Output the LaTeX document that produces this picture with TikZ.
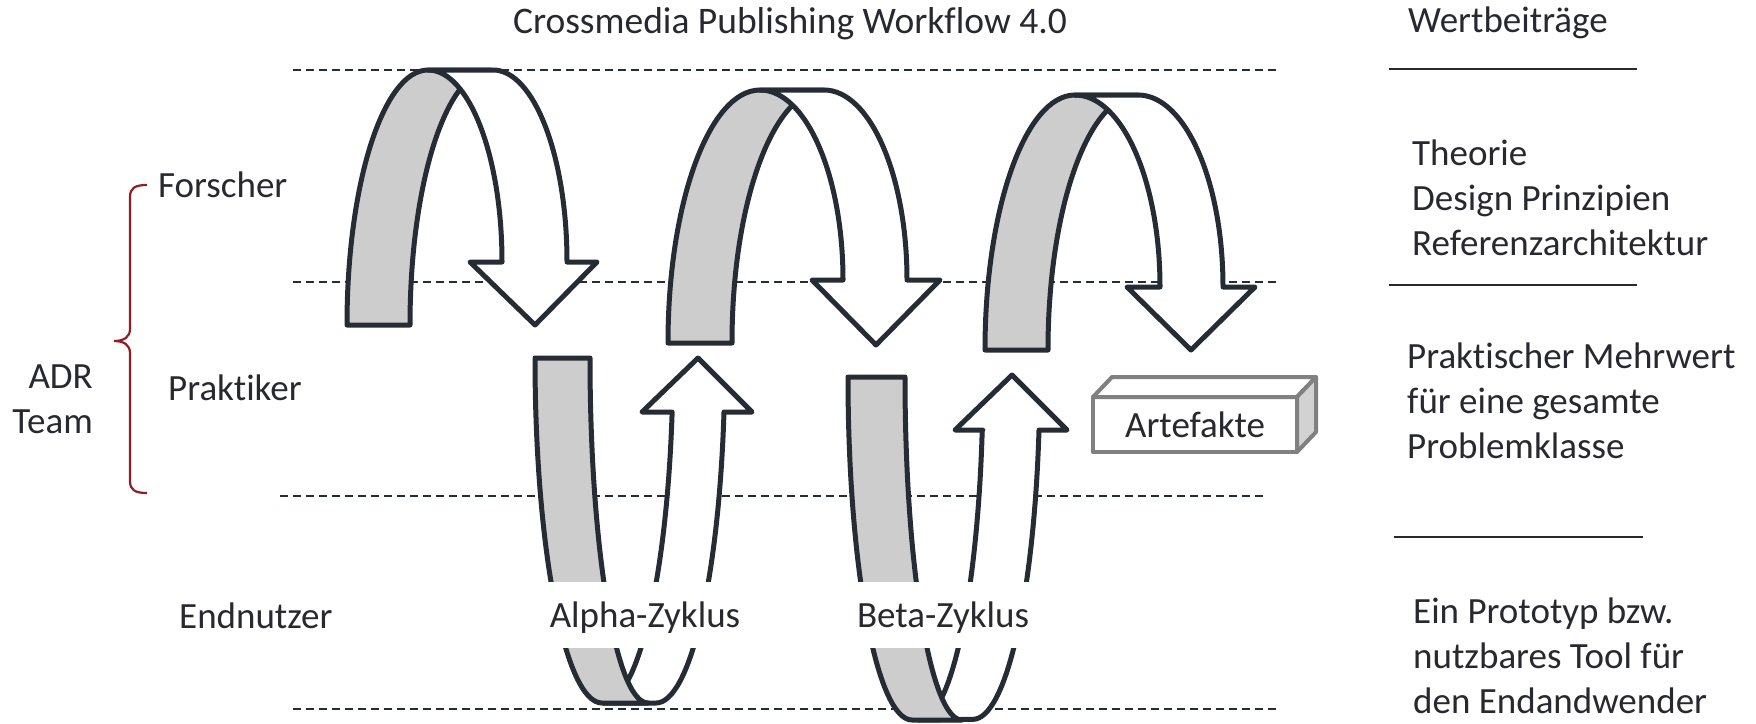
\documentclass[tikz,border=0pt]{standalone}
\usepackage{fontspec}
\setmainfont{Carlito}[Ligatures=NoCommon]
\definecolor{outline}{RGB}{38,44,52}
\definecolor{ribbongray}{RGB}{205,205,205}
\definecolor{textdark}{RGB}{40,40,48}
\definecolor{bracered}{RGB}{150,28,36}
\definecolor{boxgray}{RGB}{128,128,128}
\definecolor{sidegray}{RGB}{210,210,210}

\begin{document}
\begin{tikzpicture}[x=1pt, y=1pt,
  band/.style={draw=outline, line width=5pt, line join=round},
  backside/.style={band, fill=ribbongray},
  frontside/.style={band, fill=white},
  layerline/.style={draw=outline, line width=1.8pt, dash pattern=on 8pt off 5pt},
  rule/.style={draw=textdark, line width=2pt},
  txt/.style={font=\fontsize{37}{45}\selectfont, text=textdark, inner sep=0pt},
  cyclelabel/.style={txt, fill=white, text height=45pt, text depth=21pt, inner xsep=4pt},
  boxface/.style={draw=boxgray, line width=4pt, line join=round},
  artbox/.style={txt, boxface, fill=white, minimum width=204pt, minimum height=55pt, outer sep=0pt}]
  \useasboundingbox (0,0) rectangle (1756,-723);

  % Ebenen
  \draw[layerline] (293,-70) -- (1277,-70);
  \draw[layerline] (293,-282) -- (1277,-282);
  \draw[layerline] (280,-496) -- (1263,-496);
  \draw[layerline] (293,-709) -- (1277,-709);

  % obere Boegen
  \filldraw[backside] (347,-325) arc[start angle=180, end angle=90, x radius=81, y radius=255] -- (491,-70) arc[start angle=90, end angle=180, x radius=81, y radius=255] -- cycle;
  \filldraw[frontside] (428,-70) -- (493,-70) arc[start angle=90, end angle=0, x radius=74, y radius=192] -- (597,-262) -- (535,-325) -- (470,-262) -- (502,-262) arc[start angle=0, end angle=90, x radius=74, y radius=192] -- cycle;
  \filldraw[backside] (668,-343) arc[start angle=180, end angle=90, x radius=92, y radius=253] -- (824,-90) arc[start angle=90, end angle=180, x radius=92, y radius=253] -- cycle;
  \filldraw[frontside] (760,-90) -- (824,-90) arc[start angle=90, end angle=0, x radius=83, y radius=190] -- (940,-280) -- (876,-345) -- (812,-280) -- (843,-280) arc[start angle=0, end angle=90, x radius=83, y radius=190] -- cycle;
  \filldraw[backside] (985,-350) arc[start angle=180, end angle=90, x radius=90, y radius=255] -- (1138,-95) arc[start angle=90, end angle=180, x radius=90, y radius=255] -- cycle;
  \filldraw[frontside] (1075,-95) -- (1138,-95) arc[start angle=90, end angle=0, x radius=85, y radius=192] -- (1255,-287) -- (1191,-350) -- (1127,-287) -- (1160,-287) arc[start angle=0, end angle=90, x radius=85, y radius=192] -- cycle;

  % untere Schleifen
  \filldraw[frontside] (672,-412) -- (642,-412) -- (698,-358) -- (752,-412) -- (724,-412) arc[start angle=-9, end angle=-90, x radius=69, y radius=345] -- (603,-703) arc[start angle=-90, end angle=-9, x radius=70, y radius=345] -- cycle;
  \filldraw[backside] (535,-358) arc[start angle=180, end angle=270, x radius=67, y radius=345] -- (648,-703) arc[start angle=270, end angle=180, x radius=58, y radius=345] -- cycle;
  \filldraw[frontside] (983,-430) -- (955,-430) -- (1012,-375) -- (1067,-430) -- (1039,-430) arc[start angle=-9, end angle=-90, x radius=67, y radius=343] -- (919,-720) arc[start angle=-90, end angle=-9, x radius=64, y radius=343] -- cycle;
  \filldraw[backside] (848,-377) arc[start angle=180, end angle=270, x radius=64, y radius=343] -- (962,-720) arc[start angle=270, end angle=180, x radius=57, y radius=343] -- cycle;

  \node[cyclelabel, anchor=base] (alpha) at (645,-627) {Alpha-Zyklus};
  \node[cyclelabel, anchor=base] (beta) at (943,-627) {Beta-Zyklus};

  % Artefakte
  \node[artbox] (art) at (1195,-424.5) {Artefakte};
  \filldraw[boxface, fill=white] (art.north west) -- ++(19,20) -- ++(204,0) -- (art.north east) -- cycle;
  \filldraw[boxface, fill=sidegray] (art.north east) -- ++(19,20) -- ++(0,-55) -- (art.south east) -- cycle;

  % Rollen
  \node[txt, font=\fontsize{37.5}{45}\selectfont, anchor=base] (title) at (790,-33) {Crossmedia Publishing Workflow 4.0};
  \node[txt, anchor=base west] (forscher) at (158,-197) {Forscher};
  \node[txt, anchor=base west] (praktiker) at (168,-400) {Praktiker};
  \node[txt, anchor=base west] (endnutzer) at (179,-628) {Endnutzer};
  \node[txt, anchor=base east, align=right] (adr) at (93,-433) {ADR\\Team};
  \draw[bracered, line width=2.2pt] (147,-185) .. controls (135,-185) and (130,-188) .. (130,-197) -- (130,-329) .. controls (130,-337) and (124,-341) .. (114,-341) .. controls (124,-341) and (130,-345) .. (130,-353) -- (130,-481) .. controls (130,-490) and (135,-493) .. (147,-493);

  % Wertbeitraege
  \node[txt, anchor=base west] (wert) at (1408,-32) {Wertbeiträge};
  \draw[rule] (1389,-69) -- (1637,-69);
  \node[txt, anchor=base west, align=left] (theorie) at (1412,-255) {Theorie\\Design Prinzipien\\Referenzarchitektur};
  \draw[rule] (1389,-285) -- (1637,-285);
  \node[txt, anchor=base west, align=left] (mehrwert) at (1407,-458) {Praktischer Mehrwert\\für eine gesamte\\Problemklasse};
  \draw[rule] (1394,-537) -- (1643,-537);
  \node[txt, anchor=base west, align=left] (prototyp) at (1413,-713) {Ein Prototyp bzw.\\nutzbares Tool für\\den Endandwender};
\end{tikzpicture}
\end{document}
